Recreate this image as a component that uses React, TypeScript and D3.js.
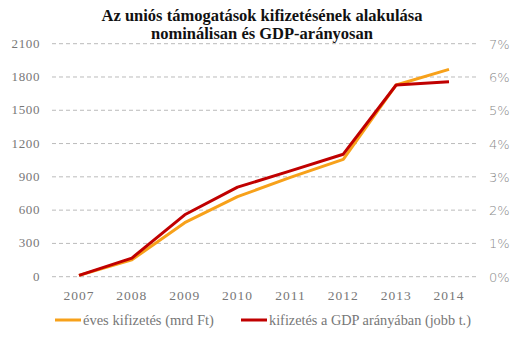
import React from "react";
import * as d3 from "d3";

const years = ["2007", "2008", "2009", "2010", "2011", "2012", "2013", "2014"];
const nominal = [12, 152, 487, 721, 895, 1058, 1728, 1869];
const gdpShare = [0.04, 0.56, 1.86, 2.69, 3.18, 3.68, 5.76, 5.86];
const leftTicks = [0, 300, 600, 900, 1200, 1500, 1800, 2100];
const rightTicks = [0, 1, 2, 3, 4, 5, 6, 7];

const W = 529, H = 340;
const serif = "'Liberation Serif', 'DejaVu Serif', serif";

export default function App() {
  const x = d3.scalePoint<string>().domain(years).range([79, 449]);
  const yL = d3.scaleLinear().domain([0, 2100]).range([276.7, 43.7]);
  const yR = d3.scaleLinear().domain([0, 7]).range([276.7, 43.7]);
  const lineL = d3.line<number>().x((_, i) => x(years[i])!).y((d) => yL(d));
  const lineR = d3.line<number>().x((_, i) => x(years[i])!).y((d) => yR(d));
  const orange = "#F7A11A";
  const red = "#C00000";
  return (
    <svg width={W} height={H} style={{ display: "block", position: "absolute", left: 0, top: 0 }} fontFamily={serif}>
      <rect width={W} height={H} fill="#fff" />
      <text x={262} y={21} textAnchor="middle" fontSize={16.5} fontWeight="bold" fill="#111">
        Az uniós támogatások kifizetésének alakulása
      </text>
      <text x={262} y={39} textAnchor="middle" fontSize={16.5} fontWeight="bold" fill="#111">
        nominálisan és GDP-arányosan
      </text>
      {leftTicks.map((t) => (
        <g key={t}>
          <line x1={52} x2={477} y1={yL(t)} y2={yL(t)} stroke="#bbb" strokeWidth={1} strokeDasharray="4 3" />
          <text x={40} y={yL(t) + 4} textAnchor="end" fontSize={13} letterSpacing={0.6} fill="#777">{t}</text>
        </g>
      ))}
      {rightTicks.map((t) => (
        <text key={t} x={489} y={yR(t) + 5} textAnchor="start" fontSize={13} fill="#888" fontFamily="'DejaVu Sans', sans-serif" fontWeight={300}>{t}%</text>
      ))}
      {years.map((yv) => (
        <text key={yv} x={x(yv)!} y={300} textAnchor="middle" fontSize={13.5} letterSpacing={1} fill="#777">{yv}</text>
      ))}
      <path d={lineL(nominal)!} fill="none" stroke={orange} strokeWidth={3} strokeLinejoin="round" />
      <path d={lineR(gdpShare)!} fill="none" stroke={red} strokeWidth={3} strokeLinejoin="round" />
      <line x1={55} x2={81} y1={320} y2={320} stroke={orange} strokeWidth={3} />
      <text x={83} y={325} fontSize={14.5} fill="#777">éves kifizetés (mrd Ft)</text>
      <line x1={241} x2={267} y1={320} y2={320} stroke={red} strokeWidth={3} />
      <text x={269} y={325} fontSize={14.3} fill="#777">kifizetés a GDP arányában (jobb t.)</text>
    </svg>
  );
}
